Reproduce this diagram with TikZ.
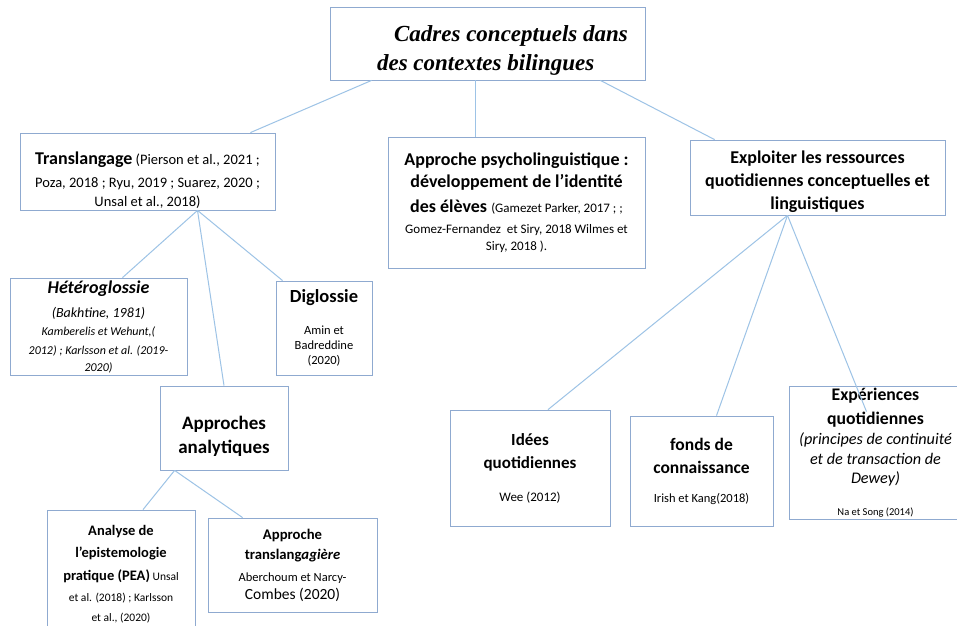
\documentclass[tikz,border=0pt]{standalone}
\usepackage{fontspec}
\setmainfont{Carlito}
\newfontfamily\titlefont{Liberation Serif}
\usepackage{tikz}
\usetikzlibrary{positioning}

\definecolor{boxblue}{HTML}{8FAAD0}
\definecolor{lineblue}{HTML}{9DC3E6}

\tikzset{
	box/.style={draw=boxblue, line width=0.8pt, align=center, inner sep=1pt, fill=white},
	link/.style={draw=lineblue, line width=1pt}
}
\newcommand{\fs}[2]{\fontsize{#1}{#2}\selectfont}

\begin{document}
\begin{tikzpicture}[x=1pt, y=-1pt]
	\clip (0,0) rectangle (957,625);
	\fill[white] (0,0) rectangle (957,625);

	% top level
	\node[box, minimum width=315pt, minimum height=73pt, align=left,
		font=\titlefont\fs{23}{29}\bfseries\itshape] (title) at (487.5,43.5)
		{\rule{0pt}{30pt}\hspace*{47pt}Cadres conceptuels dans\\\hspace*{30pt}des contextes bilingues};

	\node[box, minimum width=255pt, minimum height=77pt, font=\fs{14.5}{20}] (trans) at (147.5,171.5)
		{\rule{0pt}{30pt}{\fs{18}{20}\bfseries Translangage} (Pierson et al., 2021 ;\\[3pt]Poza, 2018 ; Ryu, 2019 ; Suarez, 2020 ;\\[-1pt]Unsal et al., 2018)};
	\node[box, minimum width=257pt, minimum height=131pt, font=\fs{18}{24}\bfseries] (psy) at (516.5,202.5)
		{Approche psycholinguistique :\\[-2pt]développement de l’identité\\[1pt]des élèves {\fs{13}{14}\mdseries (Gamezet Parker, 2017 ; ;}\\[-3pt]
		{\fs{13}{14}\mdseries Gomez-Fernandez\ \ et Siry, 2018 Wilmes et}\\[-7pt]{\fs{13}{14}\mdseries Siry, 2018 ).}};
	\node[box, minimum width=255pt, minimum height=75pt, font=\fs{18}{23}\bfseries] (expl) at (817.5,177.5)
		{\rule{0pt}{21.5pt}Exploiter les ressources\\quotidiennes conceptuelles et\\linguistiques};

	% under Translangage
	\node[box, minimum width=177pt, minimum height=97pt, inner sep=0pt, font=\fs{12}{19}\itshape] (hetero) at (98.5,326.5)
		{{\fs{18}{20}\bfseries Hétéroglossie}\\[5pt]{\fs{14}{16}(Bakhtine, 1981)}\\[-1pt]
		Kamberelis et Wehunt,(\\2012) ; Karlsson et al. (2019-\\[-2pt]2020)};
	\node[box, minimum width=96pt, minimum height=94pt, font=\fs{12.5}{15}] (digl) at (324,328)
		{{\fs{18.5}{20}\bfseries Diglossie}\\[17pt]Amin et\\Badreddine\\(2020)};
	\node[box, minimum width=128pt, minimum height=84pt, font=\fs{19}{24}\bfseries] (anal) at (224,428)
		{\rule{0pt}{30pt}Approches\\analytiques};

	% under Approches analytiques
	\node[box, minimum width=148pt, minimum height=128pt, font=\fs{11.5}{21}] (pea) at (121,574)
		{{\fs{14.5}{21}\bfseries Analyse de}\\[1pt]{\fs{14.5}{21}\bfseries l’epistemologie}\\[2pt]{\fs{14.5}{21}\bfseries pratique (PEA)} Unsal\\
		et al. (2018) ; Karlsson\\[-1pt]et al., (2020)};
	\node[box, minimum width=169pt, minimum height=94pt, font=\fs{12.5}{20}] (transg) at (292.5,565)
		{{\fs{14.7}{20}\bfseries Approche}\\{\fs{14.7}{20}\bfseries translang\textit{agière}}\\[2pt]Aberchoum et Narcy-\\[-2pt]{\fs{15.5}{18}Combes (2020)}};

	% under Exploiter
	\node[box, minimum width=160pt, minimum height=116pt, font=\fs{17}{23}\bfseries] (idees) at (530,468)
		{Idées\\quotidiennes\\[10pt]{\fs{13}{14}\mdseries Wee (2012)}};
	\node[box, minimum width=143pt, minimum height=110pt, font=\fs{17.5}{23}\bfseries] (fonds) at (701.5,471)
		{fonds de\\connaissance\\[6pt]{\fs{12.5}{14}\mdseries Irish et Kang(2018)}};
	\node[box, minimum width=173pt, minimum height=133pt, inner sep=0pt, font=\fs{17.7}{24}\bfseries] (exper) at (875.5,452.5)
		{Expériences\\quotidiennes\\[-4pt]{\fs{16.2}{18}\mdseries\itshape (principes de continuité}\\[-4pt]
		{\fs{16.2}{18}\mdseries\itshape et de transaction de}\\[-5pt]{\fs{16.2}{18}\mdseries\itshape Dewey)}\\[8pt]
		{\fs{10.5}{12}\mdseries Na et Song (2014)}};

	% connectors
	\draw[link] ([xshift=42pt]title.south west) -- ([xshift=-25pt]trans.north east);
	\draw[link] ([xshift=-12pt]title.south) -- ([xshift=-12pt]title.south |- psy.north);
	\draw[link] ([xshift=-45pt]title.south east) -- ([xshift=25pt]expl.north west);

	\draw[link] ([xshift=50pt]trans.south) -- ([xshift=24pt]hetero.north);
	\draw[link] ([xshift=50pt]trans.south) -- ([xshift=7pt]digl.north west);
	\draw[link] ([xshift=50pt]trans.south) -- (anal.north);

	\draw[link] ([xshift=15pt]anal.south west) -- ([xshift=22pt]pea.north);
	\draw[link] ([xshift=15pt]anal.south west) -- ([xshift=35pt]transg.north west);

	\draw[link] ([xshift=-30pt]expl.south) -- ([xshift=18pt]idees.north);
	\draw[link] ([xshift=-30pt]expl.south) -- ([xshift=15pt]fonds.north);
	\draw[link] ([xshift=-30pt]expl.south) -- ([xshift=-9pt,yshift=-26pt]exper.north);
\end{tikzpicture}
\end{document}
